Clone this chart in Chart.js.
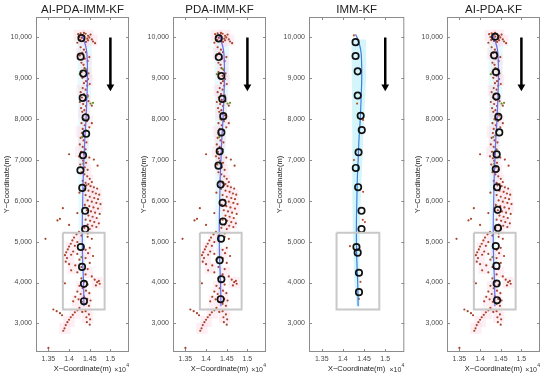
<!DOCTYPE html>
<html>
<head>
<meta charset="utf-8">
<script src="https://cdn.jsdelivr.net/npm/chart.js@4.4.0/dist/chart.umd.min.js"></script>
<style>
  body { margin: 0; background: #fff; }
  .panel { position: absolute; top: 0; width: 137px; height: 377px; }
</style>
</head>
<body>
<div class="panel" style="left:0px"><canvas id="c0" width="137" height="377"></canvas></div>
<div class="panel" style="left:137px"><canvas id="c1" width="137" height="377"></canvas></div>
<div class="panel" style="left:273px"><canvas id="c2" width="137" height="377"></canvas></div>
<div class="panel" style="left:411px"><canvas id="c3" width="137" height="377"></canvas></div>
<script>
// panel titles, left to right
const titles = ['AI-PDA-IMM-KF', 'PDA-IMM-KF', 'IMM-KF', 'AI-PDA-KF']

// axis ticks (x in units of 10^4 m)
const xTicks = [1.35, 1.4, 1.45, 1.5]
const xTickLabels = ['1.35', '1.4', '1.45', '1.5']
const yTicks = [3000, 4000, 5000, 6000, 7000, 8000, 9000, 10000]
const yTickLabels = ['3,000', '4,000', '5,000', '6,000', '7,000', '8,000', '9,000', '10,000']

// true target track
const truthTrack = [[1.430,10080],[1.437,9900],[1.442,9700],[1.444,9450],[1.4445,9000],[1.443,8500],
  [1.441,8000],[1.438,7500],[1.436,7000],[1.434,6500],[1.433,6000],[1.432,5500],[1.432,5000],
  [1.433,4500],[1.435,4000],[1.436,3420]]

// light cyan uncertainty band (left edge down, right edge up)
const trackBand = [[1.420,9950],[1.421,9000],[1.422,8000],[1.422,7000],[1.423,6000],[1.424,5000],
  [1.427,4000],[1.432,3420],[1.440,3420],[1.439,4000],[1.440,5000],[1.442,6000],[1.446,7000],
  [1.450,8000],[1.455,9000],[1.455,9950]]

// estimated positions per filter
const estAIPDAIMM = [[1.430,9983],[1.428,9529],[1.4345,9115],[1.433,8520],[1.440,8041],[1.4414,7641],
  [1.4337,7115],[1.4275,6749],[1.432,6317],[1.439,5756],[1.439,5310],[1.4284,4870],[1.4314,4383],
  [1.436,3968],[1.436,3544]]
const estPDAIMM = [[1.4307,9976],[1.4307,9520],[1.437,9056],[1.4393,8495],[1.4416,8073],[1.437,7675],
  [1.433,7212],[1.430,6861],[1.4353,6398],[1.440,5951],[1.441,5495],[1.4363,5073],[1.433,4545],
  [1.437,4081],[1.4353,3593]]
const estIMM = [[1.430,9885],[1.430,9545],[1.435,9170],[1.435,8578],[1.442,8080],[1.4446,7732],
  [1.437,7188],[1.4305,6805],[1.436,6334],[1.444,5756],[1.444,5310],[1.432,4870],[1.435,4732],
  [1.438,4240],[1.438,3765]]
const estAIPDA = [[1.4363,10017],[1.434,9561],[1.4386,9154],[1.4395,8554],[1.4442,8056],[1.4465,7675],
  [1.4402,7137],[1.438,6780],[1.441,6334],[1.4426,5780],[1.4433,5334],[1.438,4895],[1.4395,4407],
  [1.4402,3975],[1.441,3568]]

// clutter measurements
const clutter = [
  [1.422,10080],[1.428,10100],[1.433,10060],[1.440,10090],[1.446,10040],[1.452,10070],[1.425,10010],
  [1.431,9990],[1.437,10020],[1.444,9970],[1.449,10000],[1.455,9950],[1.427,9940],[1.434,9910],
  [1.441,9890],[1.458,9900],[1.463,9860],[1.420,9870],[1.446,9930],[1.436,10110],
  [1.428,9760],[1.436,9700],[1.432,9620],[1.441,9640],[1.426,9560],[1.438,9480],[1.445,9420],
  [1.430,9380],[1.449,9520],[1.435,9330],
  [1.437,9250],[1.443,9200],[1.447,9120],[1.440,9060],[1.432,9010],[1.446,8980],[1.441,8930],
  [1.436,8880],[1.450,8860],[1.444,8820],[1.430,9150],
  [1.433,8760],[1.440,8720],[1.428,8660],[1.436,8610],[1.445,8580],[1.431,8530],[1.438,8470],
  [1.426,8420],[1.434,8370],[1.441,8320],[1.429,8270],[1.437,8220],[1.447,8440],[1.455,8330],
  [1.432,8180],[1.440,8130],[1.446,8090],[1.435,8000],[1.443,7950],[1.430,7900],[1.438,7850],
  [1.449,7800],[1.433,7760],[1.441,7720],[1.455,7900],
  [1.431,7660],[1.437,7600],[1.428,7540],[1.435,7480],[1.442,7430],[1.426,7380],[1.433,7320],
  [1.440,7260],[1.429,7200],[1.436,7150],[1.424,7090],[1.431,7040],[1.400,7140],[1.449,7060],
  [1.460,7010],
  [1.434,6980],[1.441,6930],[1.427,6890],[1.469,6860],[1.438,6820],[1.445,6760],[1.430,6700],
  [1.437,6650],[1.444,6600],[1.450,6540],[1.433,6490],[1.440,6440],[1.455,6460],[1.447,6410],
  [1.442,6380],[1.452,6360],[1.460,6330],[1.468,6300],[1.436,6290],[1.447,6250],[1.457,6220],
  [1.465,6180],[1.473,6150],[1.440,6140],[1.450,6100],[1.461,6070],[1.470,6040],[1.445,6010],
  [1.455,5980],[1.466,5950],[1.476,5920],[1.438,5900],[1.449,5870],[1.459,5840],[1.470,5810],
  [1.443,5770],[1.453,5740],[1.463,5710],[1.474,5680],[1.447,5640],[1.457,5610],[1.467,5580],
  [1.440,5540],[1.451,5510],[1.461,5480],[1.472,5450],[1.445,5420],[1.456,5390],[1.466,5360],
  [1.437,5340],[1.450,5310],[1.385,5820],[1.378,5560],[1.372,5520],[1.400,5410],[1.425,6200],
  [1.420,5700],
  [1.343,5070],[1.424,5240],[1.418,5180],[1.430,5150],[1.445,5120],[1.455,5070],[1.412,5100],
  [1.408,5030],[1.420,4990],[1.404,4950],[1.400,4880],[1.414,4900],[1.397,4810],[1.393,4740],
  [1.410,4760],[1.390,4670],[1.405,4680],[1.395,4600],[1.420,4700],[1.440,4800],[1.450,4850],
  [1.446,4720],[1.458,4650],[1.440,4600],[1.425,4560],[1.392,4510],[1.400,4450],[1.415,4420],
  [1.430,4380],[1.445,4330],[1.450,4480],[1.405,4300],[1.420,4250],[1.440,4200],[1.455,4150],
  [1.462,4070],[1.468,4010],[1.474,3970],[1.465,3930],[1.472,4040],[1.430,4100],[1.437,4020],
  [1.445,3950],[1.425,3920],[1.433,3860],[1.441,3800],[1.449,3740],[1.420,3780],[1.428,3720],
  [1.436,3660],[1.444,3600],[1.452,3560],[1.415,3650],[1.423,3590],[1.431,3530],[1.440,3480],
  [1.448,3430],[1.390,3980],[1.385,4030],[1.410,3540],
  [1.425,3380],[1.420,3320],[1.414,3270],[1.409,3210],[1.404,3150],[1.400,3090],[1.396,3030],
  [1.392,2960],[1.389,2880],[1.386,2820],[1.362,3340],[1.370,3300],[1.378,3250],[1.383,3200],
  [1.440,3300],[1.448,3220],[1.442,3150],[1.451,3100],[1.443,3030],[1.450,2970],[1.432,3280],
  [1.350,2400]]
const clutterGreen = [[1.452,8380],[1.458,8400],[1.445,8550],[1.438,7980],[1.432,7560],[1.426,9100],
  [1.440,9230],[1.434,6910],[1.445,5200],[1.430,4620]]
const clutterIMM = [[1.426,10050],[1.4336,8380],[1.4478,7980],[1.426,7000],[1.4478,6220],[1.447,5535],
  [1.452,5480],[1.4166,4890],[1.4415,4017],[1.4376,3600]]

// validation gate centres
const gates = [[1.425,10050],[1.445,10050],[1.435,9900],[1.455,9930],[1.430,9600],[1.440,9450],
  [1.440,9150],[1.445,8950],[1.432,8700],[1.438,8450],[1.436,8150],[1.444,7950],[1.430,7700],
  [1.434,7450],[1.428,7200],[1.436,7000],[1.440,6750],[1.445,6500],[1.450,6250],[1.465,6150],
  [1.448,5950],[1.468,5850],[1.452,5650],[1.462,5450],[1.445,5300],[1.420,5100],[1.405,4850],
  [1.398,4600],[1.440,4700],[1.410,4350],[1.445,4250],[1.468,4000],[1.430,3900],[1.440,3650],
  [1.420,3550],[1.440,3400],[1.415,3250],[1.400,3050],[1.390,2880],[1.445,3150]]

// zoom box and direction arrow
const zoomBox = [[1.385,5220],[1.486,5220],[1.486,3340],[1.385,3340],[1.385,5220]]
const arrowPath = [[1.5,10000],[1.5,8790]]

const pts = a => a.map(([x, y]) => ({x, y}))
const FONT = "'Liberation Sans', Arial, sans-serif"
Chart.defaults.font.family = FONT

const boxAxes = {
  id: 'boxAxes',
  afterDatasetsDraw(chart) {
    const {ctx, chartArea: a, scales: {x, y}} = chart
    ctx.save()
    ctx.strokeStyle = '#8c8c8c'
    ctx.lineWidth = 1
    ctx.strokeRect(a.left + 0.5, a.top + 0.5, a.width - 1, a.height - 1)
    ctx.beginPath()
    x.ticks.forEach(t => {
      const px = Math.round(x.getPixelForValue(t.value)) + 0.5
      ctx.moveTo(px, a.bottom); ctx.lineTo(px, a.bottom - 3)
      ctx.moveTo(px, a.top); ctx.lineTo(px, a.top + 3)
    })
    y.ticks.forEach(t => {
      const py = Math.round(y.getPixelForValue(t.value)) + 0.5
      ctx.moveTo(a.left, py); ctx.lineTo(a.left + 3, py)
      ctx.moveTo(a.right, py); ctx.lineTo(a.right - 3, py)
    })
    ctx.stroke()
    // exponent of x axis
    ctx.fillStyle = '#333'
    ctx.textAlign = 'right'
    ctx.textBaseline = 'alphabetic'
    ctx.font = '5px ' + FONT
    ctx.fillText('4', a.right, 367)
    ctx.font = '7px ' + FONT
    ctx.fillText('\u00d710', a.right - 3, 372)
    ctx.restore()
  }
}

function makePanel(id, title, est, isIMM) {
  const datasets = [
    {data: pts(arrowPath), showLine: true, borderColor: '#000', borderWidth: 2.5,
      pointStyle: 'triangle', rotation: 180, backgroundColor: '#000', pointBorderWidth: 0,
      pointRadius: c => c.dataIndex === 1 ? 4.5 : 0, order: 0},
    {data: pts(zoomBox), showLine: true, borderColor: '#c8c8c8', borderWidth: 2, pointRadius: 0, order: 1},
    {data: pts(est), borderColor: '#111', borderWidth: 1.7, backgroundColor: 'rgba(0,0,0,0)',
      pointRadius: 3.2, order: 2},
    {data: pts(truthTrack), showLine: true, tension: 0.4, borderColor: isIMM ? '#3c7fe0' : '#6d6ded',
      borderWidth: 1.2, pointRadius: 0, order: 3},
    {data: pts(isIMM ? clutterIMM : clutterGreen), backgroundColor: isIMM ? '#c0502e' : '#6f8a25',
      borderWidth: 0, pointRadius: 1.1, order: 4},
    {data: pts(isIMM ? [] : clutter), backgroundColor: '#a8452a', borderWidth: 0, pointRadius: 1.1, order: 5},
    {data: pts(isIMM ? [] : gates), pointStyle: 'rect', backgroundColor: 'rgba(252,212,230,0.38)',
      borderWidth: 0, pointBorderWidth: 0, pointRadius: 8, order: 6},
    {data: pts(trackBand), showLine: true, fill: 'shape',
      backgroundColor: isIMM ? 'rgba(205,244,250,0.85)' : 'rgba(215,246,250,0.6)',
      borderWidth: 0, pointRadius: 0, order: 7}
  ]
  new Chart(document.getElementById(id), {
    type: 'scatter',
    data: {datasets},
    options: {
      responsive: false,
      animation: false,
      layout: {padding: {left: 0, right: 4, top: 0, bottom: 0}},
      plugins: {
        legend: {display: false},
        tooltip: {enabled: false},
        title: {display: true, text: title, color: '#222', fullSize: false,
          font: {size: 11.5, weight: 'normal'}, padding: {top: 2.5, bottom: 0.7}}
      },
      scales: {
        x: {
          type: 'linear', min: 1.32, max: 1.545,
          grid: {display: false, drawTicks: false}, border: {display: false},
          afterBuildTicks: s => { s.ticks = xTicks.map(v => ({value: v})) },
          afterFit: s => { s.height = 25 },
          ticks: {color: '#4a4a4a', font: {size: 7}, padding: 3,
            callback: (v, i) => xTickLabels[i]},
          title: {display: true, text: 'X\u2212Coordinate(m)', color: '#222',
            font: {size: 7.5}, padding: {top: 0, bottom: 4}}
        },
        y: {
          type: 'linear', min: 2300, max: 10500,
          grid: {display: false, drawTicks: false}, border: {display: false},
          afterBuildTicks: s => { s.ticks = yTicks.map(v => ({value: v})) },
          afterFit: s => { s.width = 36 },
          ticks: {color: '#4a4a4a', font: {size: 7}, padding: 4,
            callback: (v, i) => yTickLabels[i]},
          title: {display: true, text: 'Y\u2212Coordinate(m)', color: '#222',
            font: {size: 7.5}, padding: {top: 2, bottom: 0}}
        }
      }
    },
    plugins: [boxAxes]
  })
}

makePanel('c0', titles[0], estAIPDAIMM, false)
makePanel('c1', titles[1], estPDAIMM, false)
makePanel('c2', titles[2], estIMM, true)
makePanel('c3', titles[3], estAIPDA, false)
</script>
</body>
</html>
